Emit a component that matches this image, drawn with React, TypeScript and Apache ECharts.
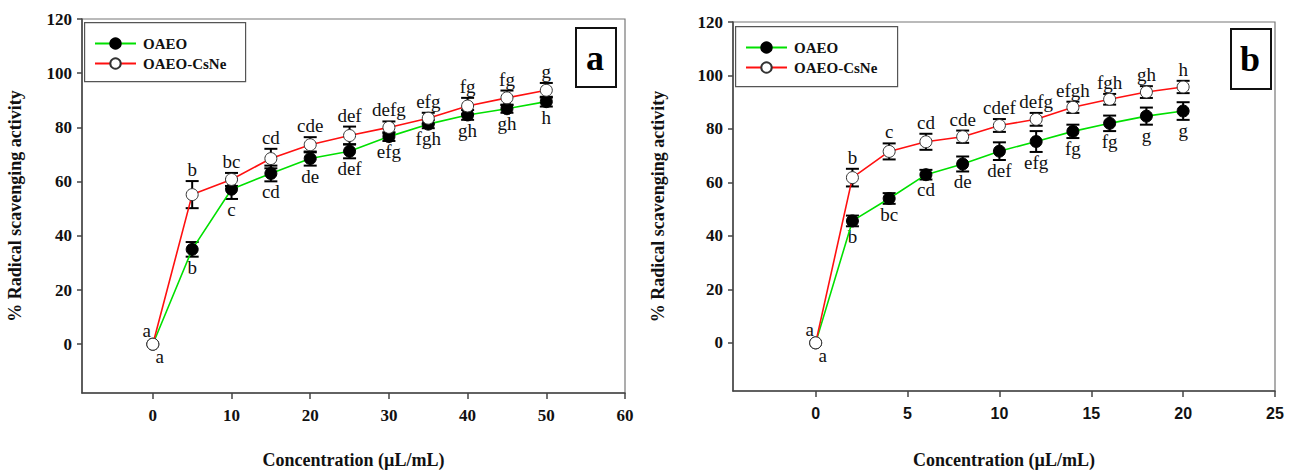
import React, { useEffect, useRef } from "react";
import * as echarts from "echarts";

// Panel a
const concA = [0, 5, 10, 15, 20, 25, 30, 35, 40, 45, 50];
const oaeoA = [0, 35, 57.2, 63, 68.5, 71.2, 76.6, 81.2, 84.6, 86.9, 89.5];
const oaeoErrA = [0, 2.7, 3.6, 2.9, 2.6, 2.6, 1.6, 1.5, 1.8, 1.5, 1.8];
const csneA = [0, 55.2, 60.8, 68.5, 73.6, 77.0, 80.0, 83.4, 87.9, 90.9, 93.7];
const csneErrA = [0, 5.0, 2.4, 3.6, 2.8, 3.3, 2.2, 2.0, 3.0, 2.7, 2.7];
const oaeoLettersA = ["a", "b", "c", "cd", "de", "def", "efg", "fgh", "gh", "gh", "h"];
const csneLettersA = ["a", "b", "bc", "cd", "cde", "def", "defg", "efg", "fg", "fg", "g"];
const xTicksA = [0, 10, 20, 30, 40, 50, 60];

// Panel b
const concB = [0, 2, 4, 6, 8, 10, 12, 14, 16, 18, 20];
const oaeoB = [0, 45.6, 54.0, 62.9, 66.9, 71.7, 75.3, 79.1, 82.1, 84.8, 86.7];
const oaeoErrB = [0, 2.0, 2.0, 1.8, 2.8, 3.3, 3.9, 2.5, 2.9, 3.2, 3.3];
const csneB = [0, 61.8, 71.6, 75.2, 77.1, 81.3, 83.6, 88.1, 91.1, 93.8, 95.7];
const csneErrB = [0, 3.3, 3.0, 3.0, 2.3, 2.4, 2.4, 2.1, 2.0, 2.2, 2.3];
const oaeoLettersB = ["a", "b", "bc", "cd", "de", "def", "efg", "fg", "fg", "g", "g"];
const csneLettersB = ["a", "b", "c", "cd", "cde", "cdef", "defg", "efgh", "fgh", "gh", "h"];
const xTicksB = [0, 5, 10, 15, 20, 25];

const yTicks = [0, 20, 40, 60, 80, 100, 120];
const seriesNames = ["OAEO", "OAEO-CsNe"];
const panelLetters = ["a", "b"];

const SERIF = "'Liberation Serif', 'Times New Roman', serif";
const SANS = "'Liberation Sans', Arial, sans-serif";
const GREEN = "#00e000";
const RED = "#ff1010";

function errSeries(xs: number[], ys: number[], errs: number[], letters: string[], above: boolean, axis: number) {
  return {
    type: "custom",
    xAxisIndex: axis,
    yAxisIndex: axis,
    z: 3,
    silent: true,
    clip: false,
    encode: { x: 0, y: 1 },
    data: xs.map((x, i) => [x, ys[i], errs[i]]),
    renderItem: (params: any, api: any) => {
      const x = api.value(0);
      const y = api.value(1);
      const e = api.value(2);
      const i = params.dataIndex;
      const top = api.coord([x, y + e]);
      const bot = api.coord([x, y - e]);
      const children: any[] = [];
      const ls = { stroke: "#000", lineWidth: 2 };
      if (e > 0) {
        const w = 6.5;
        children.push({ type: "line", shape: { x1: top[0], y1: top[1], x2: bot[0], y2: bot[1] }, style: ls });
        children.push({ type: "line", shape: { x1: top[0] - w, y1: top[1], x2: top[0] + w, y2: top[1] }, style: ls });
        children.push({ type: "line", shape: { x1: bot[0] - w, y1: bot[1], x2: bot[0] + w, y2: bot[1] }, style: ls });
      }
      let dx = 0;
      let dy = 0;
      if (x === 0) {
        dx = above ? -6 : 7;
        dy = above ? -2 : 2;
      }
      children.push({
        type: "text",
        x: (above ? top[0] : bot[0]) + dx,
        y: above ? top[1] - 2 + dy : bot[1] + 1 + dy,
        style: {
          text: letters[i],
          fontFamily: SERIF,
          fontSize: 19,
          fill: "#111",
          align: "center",
          verticalAlign: above ? "bottom" : "top",
        },
      });
      return { type: "group", children };
    },
  };
}

function lineSeries(name: string, xs: number[], ys: number[], axis: number, filled: boolean) {
  return {
    type: "line",
    name,
    xAxisIndex: axis,
    yAxisIndex: axis,
    z: filled ? 4 : 5,
    data: xs.map((x, i) => [x, ys[i]]),
    symbol: "circle",
    symbolSize: 12,
    showAllSymbol: true,
    lineStyle: { color: filled ? GREEN : RED, width: 1.6 },
    itemStyle: filled
      ? { color: "#000", borderColor: "#000", borderWidth: 1 }
      : { color: "#fff", borderColor: "#333", borderWidth: 1 },
  };
}

function xAxis(grid: number, min: number, max: number, ticks: number[], sans: boolean) {
  return {
    type: "value",
    gridIndex: grid,
    min,
    max,
    name: "Concentration (µL/mL)",
    nameLocation: "middle",
    nameGap: grid === 0 ? 58 : 60,
    nameTextStyle: { fontFamily: SERIF, fontWeight: "bold", fontSize: 18, color: "#111" },
    axisLine: { show: true, onZero: false, lineStyle: { color: "#444", width: 1.5 } },
    axisTick: { show: true, customValues: ticks, length: 6, lineStyle: { color: "#444", width: 1.5 } },
    axisLabel: {
      customValues: ticks,
      margin: 14,
      fontFamily: sans ? SANS : SERIF,
      fontWeight: "bold",
      fontSize: sans ? 16 : 17,
      color: "#111",
    },
    splitLine: { show: false },
  };
}

function yAxis(grid: number, gap: number) {
  return {
    type: "value",
    gridIndex: grid,
    min: -18,
    max: 120,
    name: "% Radical scavenging activity",
    nameLocation: "middle",
    nameGap: gap,
    nameTextStyle: { fontFamily: SERIF, fontWeight: "bold", fontSize: 18, color: "#111" },
    axisLine: { show: true, onZero: false, lineStyle: { color: "#444", width: 1.5 } },
    axisTick: { show: true, customValues: yTicks, length: 5, lineStyle: { color: "#444", width: 1.5 } },
    axisLabel: {
      customValues: yTicks,
      margin: 10,
      fontFamily: SERIF,
      fontWeight: "bold",
      fontSize: 17,
      color: "#111",
    },
    splitLine: { show: false },
  };
}

function legend(left: number, top: number) {
  return {
    left,
    top,
    orient: "vertical",
    data: seriesNames,
    itemWidth: 41,
    itemHeight: 13,
    itemGap: 5,
    padding: 0,
    selectedMode: false,
    textStyle: { fontFamily: SERIF, fontWeight: "bold", fontSize: 15, color: "#111", padding: [0, 0, 0, 2] },
  };
}

function boxGraphics(lx: number, ly: number, lw: number, lh: number, bx: number, by: number, bw: number, bh: number, letter: string) {
  return [
    { type: "rect", left: lx, top: ly, shape: { width: lw, height: lh }, style: { fill: "#fff", stroke: "#555", lineWidth: 1.2 }, z: 1 },
    { type: "rect", left: bx, top: by, shape: { width: bw, height: bh }, style: { fill: "#fff", stroke: "#111", lineWidth: 2 }, z: 1 },
    {
      type: "text",
      x: bx + bw / 2,
      y: by + bh / 2 + 1,
      style: { text: letter, fontFamily: SERIF, fontWeight: "bold", fontSize: 36, fill: "#000", align: "center", verticalAlign: "middle" },
      z: 2,
    },
  ];
}

export default function App() {
  const ref = useRef<HTMLDivElement>(null);
  useEffect(() => {
    if (!ref.current) return;
    const chart = echarts.init(ref.current, null, { renderer: "svg" });
    chart.setOption({
      animation: false,
      backgroundColor: "#fff",
      grid: [
        { left: 82, top: 19, width: 543, height: 381, show: true, borderColor: "#777", borderWidth: 1.2, backgroundColor: "transparent" },
        { left: 733, top: 22, width: 542, height: 383, show: true, borderColor: "#777", borderWidth: 1.2, backgroundColor: "transparent" },
      ],
      xAxis: [xAxis(0, -9, 60, xTicksA, false), xAxis(1, -4.5, 25, xTicksB, true)],
      yAxis: [yAxis(0, 58), yAxis(1, 66)],
      legend: [legend(94, 36), legend(745, 40)],
      graphic: [
        ...boxGraphics(84, 22, 161, 59, 575, 27, 40, 59, panelLetters[0]),
        ...boxGraphics(735, 26, 162, 60, 1230, 28, 40, 60, panelLetters[1]),
      ],
      series: [
        lineSeries(seriesNames[0], concA, oaeoA, 0, true),
        lineSeries(seriesNames[1], concA, csneA, 0, false),
        errSeries(concA, oaeoA, oaeoErrA, oaeoLettersA, false, 0),
        errSeries(concA, csneA, csneErrA, csneLettersA, true, 0),
        lineSeries(seriesNames[0], concB, oaeoB, 1, true),
        lineSeries(seriesNames[1], concB, csneB, 1, false),
        errSeries(concB, oaeoB, oaeoErrB, oaeoLettersB, false, 1),
        errSeries(concB, csneB, csneErrB, csneLettersB, true, 1),
      ],
    });
    return () => chart.dispose();
  }, []);
  return <div ref={ref} style={{ position: "fixed", left: 0, top: 0, width: 1290, height: 474 }} />;
}
